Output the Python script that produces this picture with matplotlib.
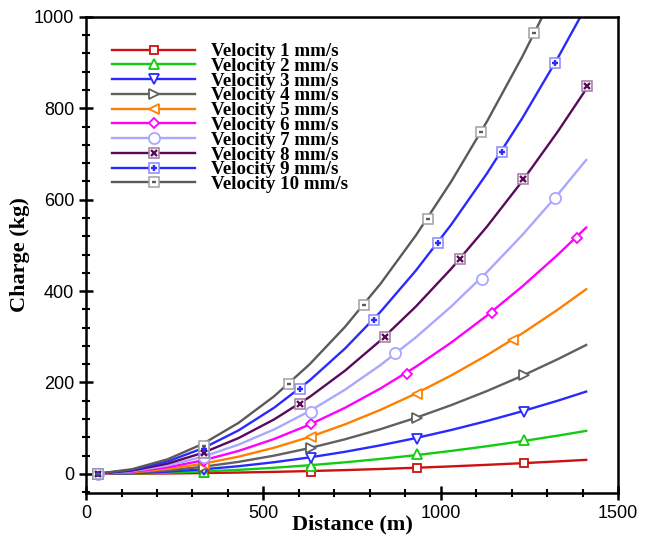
import matplotlib
matplotlib.use("Agg")
import matplotlib.pyplot as plt
from matplotlib.lines import Line2D
from matplotlib.legend_handler import HandlerTuple
from matplotlib.ticker import MultipleLocator

# distance grid (m) for the curves
distance = [30, 130, 230, 330, 430, 530, 630, 730, 830, 930, 1030, 1130, 1230, 1330, 1410]

# charge (kg)
charge = {
    1: [0, 0.3, 0.8, 1.7, 2.8, 4.3, 6.1, 8.2, 10.6, 13.3, 16.3, 19.7, 23.3, 27.2, 30.6],
    2: [0, 0.8, 2.5, 5.2, 8.7, 13.3, 18.8, 25.2, 32.6, 40.9, 50.2, 60.4, 71.5, 83.6, 94],
    3: [0, 1.5, 4.8, 9.9, 16.7, 25.4, 35.9, 48.2, 62.4, 78.3, 96.0, 115.6, 137.0, 160.1, 180],
    4: [0, 2.4, 7.5, 15.5, 26.2, 39.8, 56.3, 75.6, 97.7, 122.7, 150.5, 181.1, 214.6, 250.9, 282],
    5: [0, 3.4, 10.7, 22.1, 37.6, 57.1, 80.6, 108.3, 140.0, 175.7, 215.6, 259.5, 307.4, 359.4, 404],
    6: [0, 4.6, 14.3, 29.5, 50.1, 76.2, 107.6, 144.5, 186.8, 234.5, 287.6, 346.2, 410.2, 479.5, 539],
    7: [0, 5.8, 18.3, 37.6, 63.9, 97.1, 137.1, 184.1, 238.0, 298.8, 366.6, 441.3, 522.8, 611.2, 687],
    8: [0, 7.2, 22.4, 46.1, 78.3, 119.0, 168.1, 225.7, 291.8, 366.3, 449.3, 540.8, 640.8, 749.1, 842],
    9: [0, 8.7, 27.2, 56.1, 95.1, 144.6, 204.2, 274.2, 354.5, 445.0, 545.9, 657.1, 778.5, 910.2, 1023],
    10: [0, 10.2, 31.9, 65.8, 111.6, 169.6, 239.5, 321.6, 415.8, 522.0, 640.3, 770.8, 913.2, 1067.6, 1200],
}

# symbol positions (distance, charge)
marker_x = {
    1: [35, 333, 633, 934, 1235],
    2: [35, 333, 633, 934, 1235],
    3: [35, 333, 633, 934, 1235],
    4: [35, 333, 633, 934, 1235],
    5: [35, 333, 633, 934, 1203],
    6: [35, 333, 633, 904, 1144, 1383],
    7: [35, 333, 633, 872, 1116, 1322],
    8: [35, 333, 603, 843, 1053, 1233, 1413],
    9: [35, 333, 603, 812, 993, 1174, 1322],
    10: [35, 333, 573, 783, 965, 1114, 1264],
}
marker_y = {
    1: [0, 1.5, 5, 12.5, 23.4],
    2: [0, 5, 18, 43.8, 73],
    3: [0, 9, 34, 76, 135],
    4: [0, 15, 56, 123, 217],
    5: [0, 22, 80, 175, 293],
    6: [0, 29, 109, 219, 353, 517],
    7: [0, 37, 136, 264, 426, 603],
    8: [0, 46, 153, 300, 470, 645, 849],
    9: [0, 55, 185, 336, 505, 705, 899],
    10: [0, 62, 196, 370, 557, 749, 964],
}

colors = {1: "#cc1111", 2: "#11cc11", 3: "#2a2aff", 4: "#606060", 5: "#ff8000",
          6: "#ff00ff", 7: "#a8a8ff", 8: "#5a0a5a", 9: "#2a2aff", 10: "#5a5a5a"}
box_edge = {8: "#a07aa0", 9: "#8888ff", 10: "#a0a0a0"}
markers = {1: "s", 2: "^", 3: "v", 4: ">", 5: "<", 6: "D", 7: "o",
           8: "x", 9: "+", 10: "_"}
msize = {1: 6.3, 2: 6.8, 3: 6.8, 4: 6.8, 5: 6.8, 6: 5.3, 7: 8, 8: 4, 9: 5, 10: 3.5}

fig = plt.figure(figsize=(6.52, 5.38), dpi=100)
ax = fig.add_axes([0.132, 0.0836, 0.816, 0.885])

handles = []
for v in range(1, 11):
    c = colors[v]
    ax.plot(distance, charge[v], color=c, lw=1.7, zorder=2)
    if v <= 7:
        ax.plot(marker_x[v], marker_y[v], ls="none", marker=markers[v], ms=msize[v],
                mfc="white", mec=c, mew=1.3, zorder=3)
        h = Line2D([], [], color=c, lw=1.7, marker=markers[v], ms=msize[v],
                   mfc="white", mec=c, mew=1.3)
    else:
        ax.plot(marker_x[v], marker_y[v], ls="none", marker="s", ms=6.6,
                mfc="white", mec=box_edge[v], mew=1.1, zorder=3)
        ax.plot(marker_x[v], marker_y[v], ls="none", marker=markers[v], ms=msize[v],
                color=c, mew=1.7, zorder=4)
        h = (Line2D([], [], color=c, lw=1.7, marker="s", ms=6.6, mfc="white",
                    mec=box_edge[v], mew=1.1),
             Line2D([], [], ls="none", marker=markers[v], ms=msize[v], color=c, mew=1.7))
    handles.append(h)

labels = ["Velocity %d mm/s" % v for v in range(1, 11)]
leg = ax.legend(handles, labels, loc="upper left", bbox_to_anchor=(0.024, 0.973),
                frameon=False, handlelength=4.4, handletextpad=0.85,
                labelspacing=-0.13, borderaxespad=0.3,
                handler_map={tuple: HandlerTuple(ndivide=1)},
                prop={"family": "Liberation Serif", "weight": "bold", "size": 13.6})

ax.set_xlim(0, 1500)
ax.set_ylim(-42, 1000)
ax.xaxis.set_major_locator(MultipleLocator(500))
ax.xaxis.set_minor_locator(MultipleLocator(100))
ax.yaxis.set_major_locator(MultipleLocator(200))
ax.yaxis.set_minor_locator(MultipleLocator(40))
ax.tick_params(which="major", direction="inout", length=10, width=1.8,
               labelsize=13, top=False, right=False)
ax.tick_params(which="minor", direction="inout", length=6, width=1.5, top=False, right=False)
for lab in ax.get_xticklabels() + ax.get_yticklabels():
    lab.set_family("Liberation Sans")
for s in ax.spines.values():
    s.set_linewidth(1.8)

ax.set_xlabel("Distance (m)", family="Liberation Serif", weight="bold", size=16)
ax.set_ylabel("Charge (kg)", family="Liberation Serif", weight="bold", size=16)
ax.xaxis.set_label_coords(0.5, -0.046)
ax.yaxis.set_label_coords(-0.105, 0.5)

fig.savefig("out.png", dpi=100)
